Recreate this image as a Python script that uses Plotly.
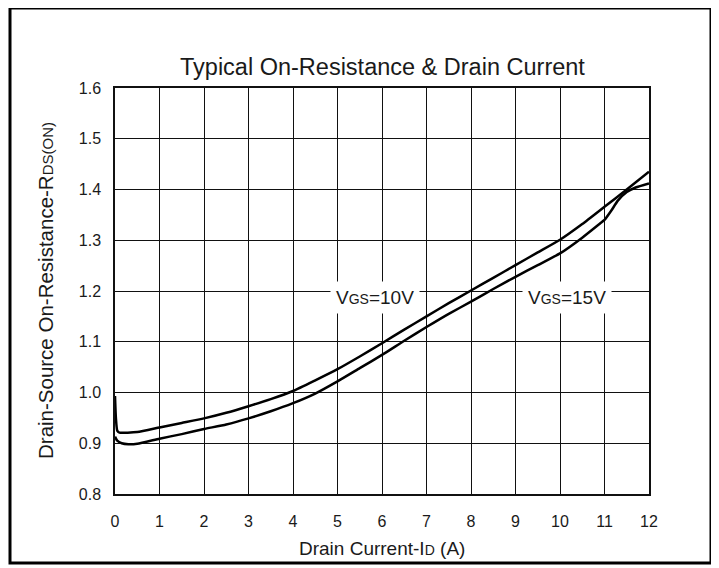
import plotly.graph_objects as go

# Data
x_10v = [0, 0.02, 0.05, 0.1, 0.5, 1, 1.5, 2, 2.5, 3, 3.5, 4, 4.5, 5, 5.5, 6, 6.5, 7, 7.5,
         8, 8.5, 9, 9.5, 10, 10.5, 11, 11.5, 12]
r_10v = [0.993, 0.95, 0.925, 0.921, 0.922, 0.931, 0.940, 0.949, 0.960, 0.973, 0.987, 1.003,
         1.024, 1.046, 1.071, 1.097, 1.124, 1.150, 1.176, 1.201, 1.226, 1.251, 1.276, 1.301,
         1.332, 1.366, 1.400, 1.435]

x_15v = [0, 0.05, 0.15, 0.3, 0.5, 1, 1.5, 2, 2.5, 3, 3.5, 4, 4.5, 5, 5.5, 6, 6.5, 7, 7.5,
         8, 8.5, 9, 9.5, 10, 10.5, 10.9, 11.0, 11.15, 11.3, 11.5, 11.7, 12]
r_15v = [0.913, 0.905, 0.900, 0.898, 0.899, 0.909, 0.918, 0.928, 0.937, 0.949, 0.963, 0.979,
         0.998, 1.022, 1.048, 1.074, 1.102, 1.129, 1.155, 1.179, 1.204, 1.228, 1.251, 1.274,
         1.305, 1.333, 1.340, 1.358, 1.378, 1.395, 1.404, 1.412]

x_ticks = list(range(0, 13))
y_ticks = [0.8, 0.9, 1.0, 1.1, 1.2, 1.3, 1.4, 1.5, 1.6]

title_text = "Typical On-Resistance &amp; Drain Current"
x_title = "Drain Current-I<span style='font-size:14px'>D</span> (A)"
y_title = "Drain-Source On-Resistance-R<span style='font-size:15px'>DS(ON)</span>"
labels = [("V<span style='font-size:14px'>GS</span>=10V", 5.84, 1.188),
          ("V<span style='font-size:14px'>GS</span>=15V", 10.16, 1.188)]

FONT = "Liberation Sans, Arial, sans-serif"
TXT = "#1a1a1a"

fig = go.Figure()
fig.add_trace(go.Scatter(x=x_10v, y=r_10v, mode="lines",
                         line=dict(color="black", width=2.5, shape="spline", smoothing=0.5),
                         showlegend=False, hoverinfo="skip"))
fig.add_trace(go.Scatter(x=x_15v, y=r_15v, mode="lines",
                         line=dict(color="black", width=2.5, shape="spline", smoothing=0.5),
                         showlegend=False, hoverinfo="skip"))

# page body has an 8px margin; work in screen pixels and convert
OFF = 8
W, H = 719 - OFF, 568 - OFF
PL, PR, PT, PB = 115, 649, 88, 494   # plot area in screen pixels
L, T = PL - OFF, PT - OFF
R = W - (PR - OFF)
B = H - (PB - OFF)
pw, ph = PR - PL, PB - PT

def px2paper_x(px):
    return (px - PL) / pw

def px2paper_y(py):
    return (PB - py) / ph

fig.update_layout(
    width=W, height=H,
    margin=dict(l=L, r=R, t=T, b=B, autoexpand=False),
    paper_bgcolor="white", plot_bgcolor="white",
    font=dict(family=FONT, color=TXT, size=16),
    xaxis=dict(range=[0, 12], tickvals=x_ticks, ticktext=[str(v) for v in x_ticks],
               showgrid=True, gridcolor="#111", gridwidth=1,
               showline=True, linecolor="#111", linewidth=1.5, mirror=True,
               zeroline=False, ticks="", ticklabelstandoff=12,
               tickfont=dict(size=16, color=TXT, family=FONT)),
    yaxis=dict(range=[0.8, 1.6], tickvals=y_ticks, ticktext=[f"{v:.1f}" for v in y_ticks],
               showgrid=True, gridcolor="#111", gridwidth=1,
               showline=True, linecolor="#111", linewidth=1.5, mirror=True,
               zeroline=False, ticks="", ticklabelstandoff=9,
               tickfont=dict(size=16, color=TXT, family=FONT)),
)

annotations = [
    dict(text=title_text, xref="paper", yref="paper", x=0.5, y=px2paper_y(67),
         xanchor="center", yanchor="middle", showarrow=False,
         font=dict(size=23.5, color=TXT, family=FONT)),
    dict(text=x_title, xref="paper", yref="paper", x=0.5, y=px2paper_y(548),
         xanchor="center", yanchor="middle", showarrow=False,
         font=dict(size=19, color=TXT, family=FONT)),
    dict(text=y_title, xref="paper", yref="paper", x=px2paper_x(45), y=0.5,
         xanchor="center", yanchor="middle", textangle=-90, showarrow=False,
         font=dict(size=20.5, color=TXT, family=FONT)),
]
for txt, lx, ly in labels:
    annotations.append(dict(text=txt, x=lx, y=ly, xref="x", yref="y", showarrow=False,
                            xanchor="center", yanchor="middle", bgcolor="white",
                            borderpad=5, font=dict(size=19, color=TXT, family=FONT)))
fig.update_layout(annotations=annotations)

fig.add_shape(type="rect", xref="paper", yref="paper",
              x0=px2paper_x(10), x1=px2paper_x(711), y0=px2paper_y(563), y1=px2paper_y(8),
              line=dict(color="black", width=3), fillcolor="rgba(0,0,0,0)", layer="above")

fig.write_html("out.html")
